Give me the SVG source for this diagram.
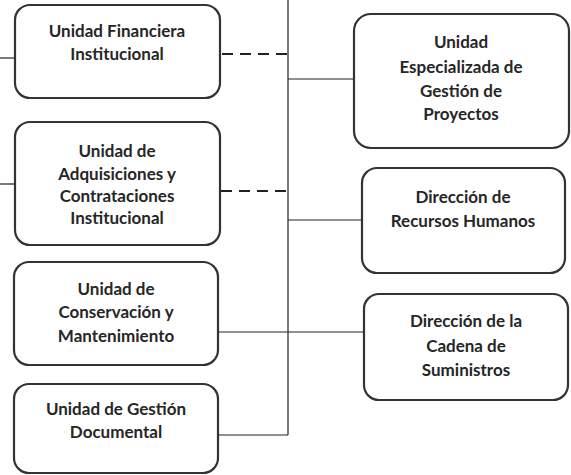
<svg xmlns="http://www.w3.org/2000/svg" width="571" height="475" viewBox="0 0 571 475">
<style>
.box{fill:#fff;stroke:#333;stroke-width:2.2}
.t{font-family:Lato,"Open Sans",sans-serif;font-weight:bold;font-size:17px;fill:#262626;text-anchor:middle}
.ln{stroke:#222;stroke-width:1.2;fill:none}
.dash{stroke:#222;stroke-width:2.2;stroke-dasharray:11,7;fill:none}
</style>
<rect width="571" height="475" fill="#fff"/>
<g id="connectors">
<line class="ln" x1="288" y1="0" x2="288" y2="435"/>
<line class="ln" x1="0" y1="58" x2="15" y2="58"/>
<line class="ln" x1="0" y1="184" x2="15" y2="184"/>
<line class="dash" x1="222" y1="54" x2="288" y2="54"/>
<line class="dash" x1="221" y1="191" x2="288" y2="191"/>
<line class="ln" x1="288" y1="79" x2="354" y2="79"/>
<line class="ln" x1="288" y1="220" x2="362" y2="220"/>
<line class="ln" x1="218" y1="332" x2="364" y2="332"/>
<line class="ln" x1="218" y1="435" x2="288" y2="435"/>
</g>
<g id="n1"><rect class="box" x="15" y="5" width="205" height="93" rx="15"/>
<text class="t" x="117" y="37">Unidad Financiera</text><text class="t" x="117" y="60">Institucional</text></g>
<g id="n2"><rect class="box" x="15" y="122" width="205" height="123" rx="15"/>
<text class="t" x="117" y="157">Unidad de</text><text class="t" x="117" y="180">Adquisiciones y</text><text class="t" x="117" y="202">Contrataciones</text><text class="t" x="117" y="224">Institucional</text></g>
<g id="n3"><rect class="box" x="14" y="262" width="204" height="103" rx="15"/>
<text class="t" x="116" y="295">Unidad de</text><text class="t" x="116" y="318">Conservación y</text><text class="t" x="116" y="342">Mantenimiento</text></g>
<g id="n4"><rect class="box" x="14" y="384" width="204" height="89" rx="15"/>
<text class="t" x="116" y="415">Unidad de Gestión</text><text class="t" x="116" y="438">Documental</text></g>
<g id="n5"><rect class="box" x="354" y="14" width="215" height="134" rx="17"/>
<text class="t" x="461" y="48">Unidad</text><text class="t" x="461" y="73">Especializada de</text><text class="t" x="461" y="97">Gestión de</text><text class="t" x="461" y="120">Proyectos</text></g>
<g id="n6"><rect class="box" x="362" y="168" width="203" height="105" rx="15"/>
<text class="t" x="463" y="203">Dirección de</text><text class="t" x="463" y="227">Recursos Humanos</text></g>
<g id="n7"><rect class="box" x="364" y="294" width="204" height="106" rx="15"/>
<text class="t" x="466" y="327">Dirección de la</text><text class="t" x="466" y="352">Cadena de</text><text class="t" x="466" y="376">Suministros</text></g>
</svg>
